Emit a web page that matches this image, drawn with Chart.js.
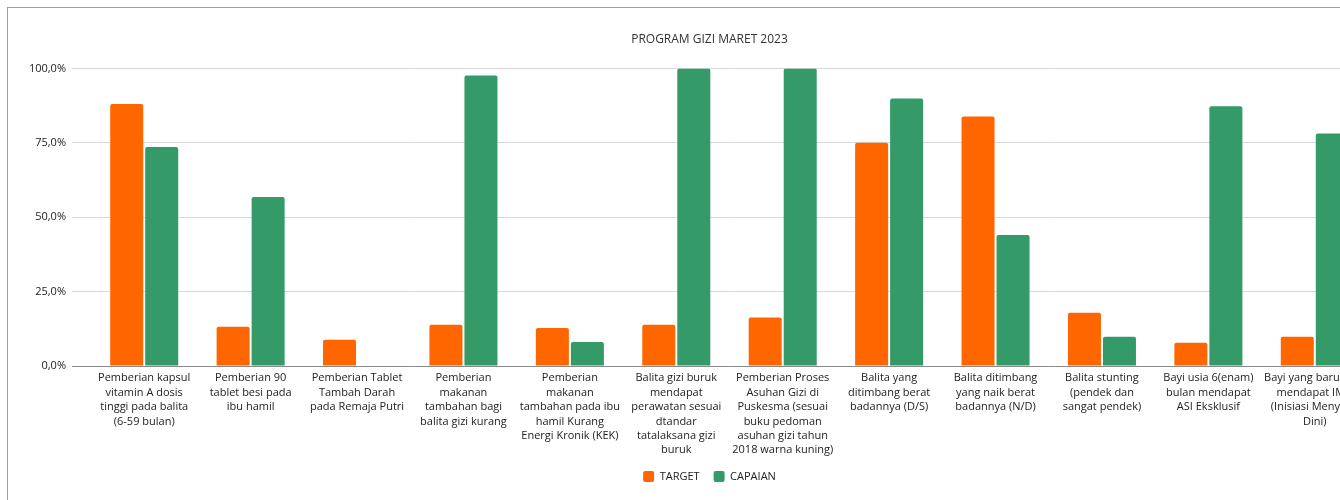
<!DOCTYPE html>
<html lang="id">

<head>
    <meta charset="UTF-8">
    <title>Program Gizi Maret 2023</title>
    <script src="https://cdn.jsdelivr.net/npm/chart.js@4.4.0/dist/chart.umd.min.js"></script>
    <style>
        body { margin: 0; background: #fff; overflow: hidden; }
        .frame {
            position: absolute; left: 7px; top: 7px;
            width: 1403px; height: 500px;
            border: 1px solid #9e9e9e; background: #fff;
        }
    </style>
</head>

<body>
    <div class="frame">
        <canvas id="giziChart" width="1403" height="500"></canvas>
    </div>

    <script>
        const categories = [
            ['Pemberian kapsul', 'vitamin A dosis', 'tinggi pada balita', '(6-59 bulan)'],
            ['Pemberian 90', 'tablet besi pada', 'ibu hamil'],
            ['Pemberian Tablet', 'Tambah Darah', 'pada Remaja Putri'],
            ['Pemberian', 'makanan', 'tambahan bagi', 'balita gizi kurang'],
            ['Pemberian', 'makanan', 'tambahan pada ibu', 'hamil Kurang', 'Energi Kronik (KEK)'],
            ['Balita gizi buruk', 'mendapat', 'perawatan sesuai', 'dtandar', 'tatalaksana gizi', 'buruk'],
            ['Pemberian Proses', 'Asuhan Gizi di', 'Puskesma (sesuai', 'buku pedoman', 'asuhan gizi tahun', '2018 warna kuning)'],
            ['Balita yang', 'ditimbang berat', 'badannya (D/S)'],
            ['Balita ditimbang', 'yang naik berat', 'badannya (N/D)'],
            ['Balita stunting', '(pendek dan', 'sangat pendek)'],
            ['Bayi usia 6(enam)', 'bulan mendapat', 'ASI Eksklusif'],
            ['Bayi yang baru lahir', 'mendapat IMD', '(Inisiasi Menyusu', 'Dini)']
        ];
        const target = [88.0, 13.2, 8.8, 13.9, 12.8, 13.9, 16.3, 75.0, 83.8, 17.9, 7.8, 9.8];
        const capaian = [73.6, 56.8, 0, 97.6, 8.1, 100, 100, 89.9, 44.0, 9.8, 87.3, 78.1];
        const yTicks = [0, 25, 50, 75, 100];

        const font = "'Open Sans', 'Liberation Sans', sans-serif";
        Chart.defaults.font.family = font;
        Chart.defaults.color = '#222';

        const ctx = document.getElementById('giziChart').getContext('2d');
        new Chart(ctx, {
            type: 'bar',
            data: {
                labels: categories,
                datasets: [{
                    label: 'TARGET',
                    data: target,
                    backgroundColor: '#ff6600',
                    borderRadius: 2,
                    borderSkipped: 'bottom',
                    categoryPercentage: 0.658,
                    barPercentage: 0.943
                }, {
                    label: 'CAPAIAN',
                    data: capaian,
                    backgroundColor: '#349a68',
                    borderRadius: 2,
                    borderSkipped: 'bottom',
                    categoryPercentage: 0.658,
                    barPercentage: 0.943
                }]
            },
            options: {
                responsive: false,
                animation: false,
                devicePixelRatio: 1,
                layout: { padding: { left: 0, right: 0, top: 0, bottom: 16 } },
                plugins: {
                    title: {
                        display: true,
                        text: 'PROGRAM GIZI MARET 2023',
                        color: '#333',
                        font: { size: 12, weight: 'normal' },
                        padding: { top: 24, bottom: 22 }
                    },
                    legend: {
                        position: 'bottom',
                        labels: {
                            boxWidth: 11,
                            boxHeight: 11,
                            useBorderRadius: true,
                            borderRadius: 2,
                            padding: 14,
                            font: { size: 11 }
                        }
                    },
                    tooltip: { enabled: false }
                },
                scales: {
                    x: {
                        grid: { display: false, drawTicks: false },
                        border: { display: false },
                        afterFit: (scale) => { scale.height = 91; },
                        ticks: {
                            autoSkip: false,
                            maxRotation: 0,
                            padding: 5,
                            font: { size: 11, lineHeight: 1.31 }
                        }
                    },
                    y: {
                        min: 0,
                        max: 100,
                        afterBuildTicks: (scale) => {
                            scale.ticks = yTicks.map(v => ({ value: v }));
                        },
                        afterFit: (scale) => { scale.width = 83; },
                        border: { display: false },
                        grid: {
                            color: (c) => c.tick && c.tick.value === 0 ? '#8a8a8a' : '#d9d9d9',
                            tickLength: 19,
                            lineWidth: 1
                        },
                        ticks: {
                            padding: 6,
                            font: { size: 11 },
                            callback: (v) => v.toFixed(1).replace('.', ',') + '%'
                        }
                    },
                    yRight: {
                        position: 'right',
                        grid: { display: false, drawTicks: false },
                        border: { display: false },
                        ticks: { display: false },
                        afterFit: (scale) => { scale.width = 43; }
                    }
                }
            }
        });
    </script>
</body>

</html>
